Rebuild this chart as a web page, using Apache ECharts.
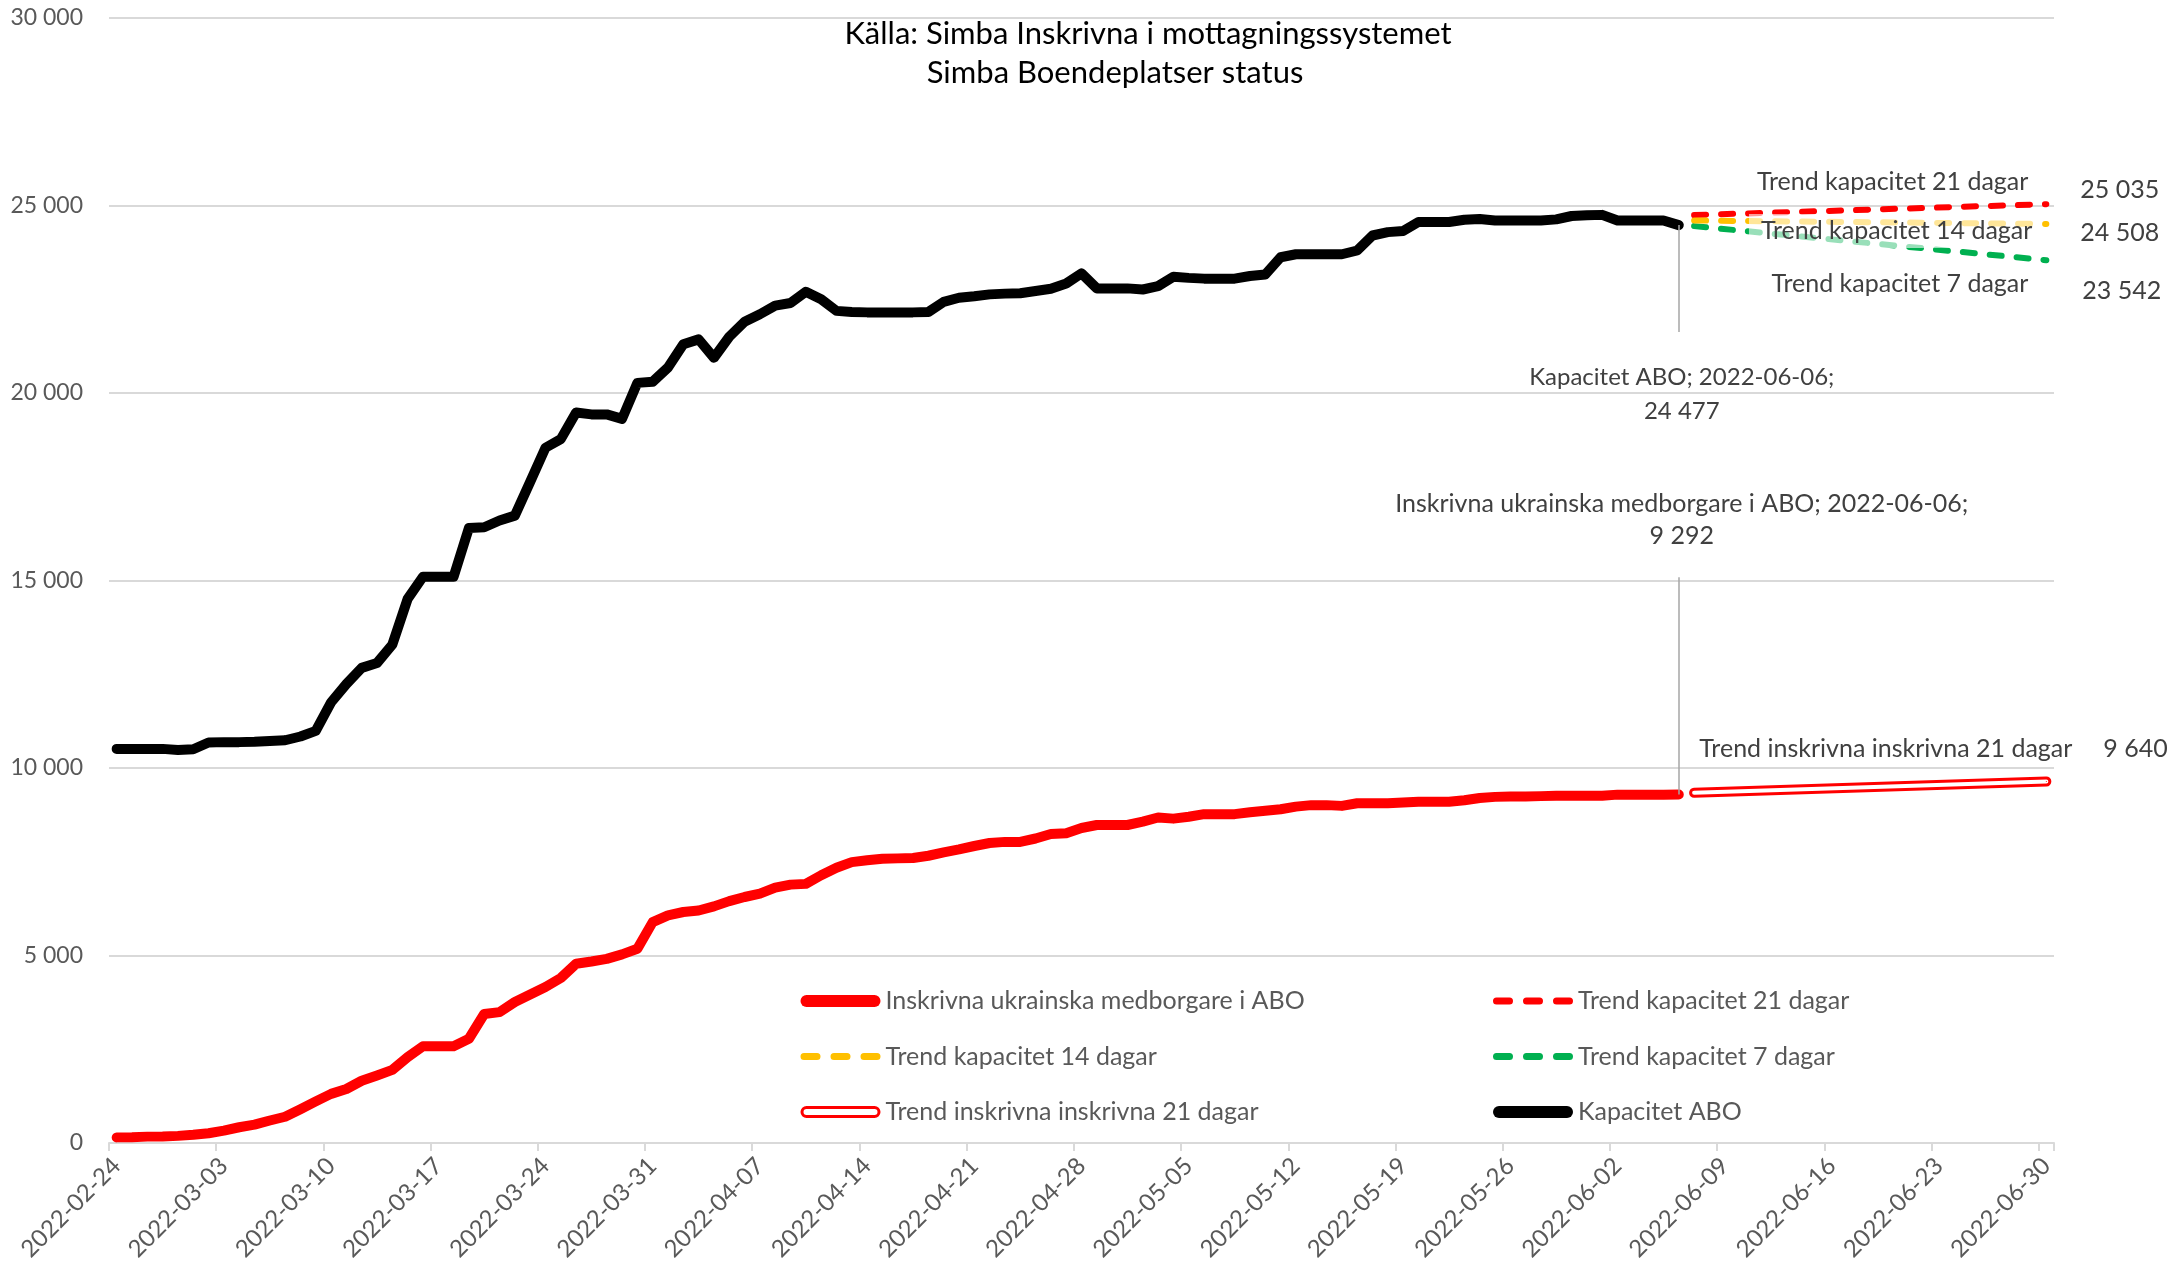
<!DOCTYPE html>
<html>
<head>
<meta charset="utf-8">
<title>Kapacitet ABO</title>
<script src="https://cdn.jsdelivr.net/npm/echarts@6/dist/echarts.min.js"></script>
<style>
  html, body { margin: 0; padding: 0; background: #fff; }
  #chart { width: 2171px; height: 1280px; }
</style>
</head>
<body>
<div id="chart"></div>
<script>
// kategorier: en per dag, 2022-02-24 .. 2022-06-30
var startDate = '2022-02-24';
var endDate = '2022-06-30';
var categories = [];
(function () {
    var d = new Date(startDate + 'T00:00:00Z');
    var end = new Date(endDate + 'T00:00:00Z');
    while (d <= end) {
        categories.push(d.toISOString().slice(0, 10));
        d.setUTCDate(d.getUTCDate() + 1);
    }
})();

// Kapacitet ABO, 2022-02-24 .. 2022-06-06
var kapacitet = [
    10510, 10510, 10510, 10510, 10480, 10500, 10680, 10690, 10690, 10700,
    10720, 10740, 10840, 10990, 11750, 12240, 12670, 12800, 13290, 14510,
    15100, 15100, 15100, 16400, 16420, 16600, 16730, 17630, 18540, 18770,
    19480, 19430, 19430, 19310, 20270, 20300, 20680, 21300, 21430, 20940,
    21500, 21900, 22100, 22330, 22400, 22700, 22500, 22190, 22160, 22150,
    22150, 22150, 22150, 22160, 22430, 22540, 22580, 22630, 22650, 22660,
    22720, 22780, 22920, 23190, 22790, 22790, 22790, 22760, 22850, 23100,
    23070, 23050, 23050, 23050, 23120, 23160, 23620, 23700, 23700, 23700,
    23700, 23800, 24200, 24290, 24320, 24560, 24560, 24560, 24620, 24640,
    24600, 24600, 24600, 24600, 24630, 24720, 24740, 24750, 24600, 24600,
    24600, 24600, 24477
];

// Inskrivna ukrainska medborgare i ABO, 2022-02-24 .. 2022-06-06
var inskrivna = [
    150, 155, 170, 175, 190, 220, 260, 330, 420, 490,
    600, 700, 900, 1110, 1310, 1440, 1660, 1800, 1950, 2290,
    2580, 2580, 2580, 2780, 3440, 3490, 3760, 3960, 4160, 4400,
    4780, 4840, 4910, 5030, 5180, 5890, 6070, 6160, 6200, 6310,
    6450, 6560, 6650, 6810, 6890, 6910, 7140, 7340, 7490, 7540,
    7580, 7590, 7600, 7660, 7750, 7830, 7920, 8000, 8030, 8030,
    8120, 8240, 8260, 8400, 8480, 8480, 8480, 8570, 8680, 8650,
    8700, 8770, 8770, 8770, 8820, 8860, 8900, 8970, 9010, 9010,
    8990, 9060, 9060, 9060, 9080, 9100, 9100, 9100, 9140, 9200,
    9230, 9240, 9240, 9250, 9260, 9260, 9260, 9260, 9290, 9290,
    9290, 9290, 9292
];

// trendlinjer: start- och slutvärde
var trendDates = ['2022-06-07', '2022-06-30'];
var trendKap21 = [24745, 25035];
var trendKap14 = [24600, 24508];
var trendKap7 = [24450, 23542];
var trendInskr21 = [9340, 9640];

var yMin = 0;
var yMax = 30000;
var yStep = 5000;

var RED = '#FF0000';
var YELLOW = '#FFC000';
var GREEN = '#00B050';
var TXT = '#404040';
var AXIS_TXT = '#595959';
var GRID = '#D9D9D9';
var FONT = 'Lato';

function fmt(v) {
    return String(v).replace(/\B(?=(\d{3})+(?!\d))/g, ' ');
}

// legendsymboler (80 x 12)
var solidIcon = 'path://M6,0L74,0A6,6,0,0,1,74,12L6,12A6,6,0,0,1,6,0Z';
var dashIcon = 'path://M0,0M80,12' +
    'M3.5,2.5L16.5,2.5A3.5,3.5,0,0,1,16.5,9.5L3.5,9.5A3.5,3.5,0,0,1,3.5,2.5Z' +
    'M33.5,2.5L46.5,2.5A3.5,3.5,0,0,1,46.5,9.5L33.5,9.5A3.5,3.5,0,0,1,33.5,2.5Z' +
    'M63.5,2.5L76.5,2.5A3.5,3.5,0,0,1,76.5,9.5L63.5,9.5A3.5,3.5,0,0,1,63.5,2.5Z';
var outlineIcon = 'path://M0,0M80,12M6,1.5L74,1.5A4.5,4.5,0,0,1,74,10.5L6,10.5A4.5,4.5,0,0,1,6,1.5Z';

// namn-etikett vid trendlinjens slut (högerställd)
function nameLabel(name, dx, dy, bg) {
    var lab = {
        show: true,
        position: 'inside',
        align: 'right',
        verticalAlign: 'middle',
        offset: [dx, dy],
        formatter: name,
        color: TXT, fontSize: 25, fontFamily: FONT
    };
    if (bg) {
        lab.backgroundColor = bg;
        lab.padding = [7, 8, 2, 12];
        lab.offset = [dx + 8, dy - 2];
    }
    return lab;
}

// värde-etikett vid trendlinjens slut
function valueMark(val, dx, dy) {
    return {
        silent: true, animation: false,
        symbol: 'circle', symbolSize: 1,
        itemStyle: { color: 'rgba(0,0,0,0)' },
        label: {
            show: true, position: 'inside', align: 'left', verticalAlign: 'middle',
            offset: [dx, dy], color: TXT, fontSize: 25, fontFamily: FONT,
            formatter: fmt(val)
        },
        data: [{ coord: [trendDates[1], val], value: val }]
    };
}

function trendData(vals, label) {
    return [
        [trendDates[0], vals[0]],
        { value: [trendDates[1], vals[1]], symbol: 'circle', symbolSize: 1, label: label }
    ];
}

function lastLabelData(vals, label) {
    var last = vals.length - 1;
    return vals.map(function (v, i) {
        if (i !== last) return v;
        return { value: v, symbol: 'circle', symbolSize: 1, label: label };
    });
}

var lastDate = categories[kapacitet.length - 1];

var chart = echarts.init(document.getElementById('chart'));

var legendText = { color: AXIS_TXT, fontSize: 25, fontFamily: FONT, lineHeight: 30 };

var option = {
    animation: false,
    backgroundColor: '#fff',
    textStyle: { fontFamily: FONT },
    title: [
        {
            text: 'Källa: Simba Inskrivna i mottagningssystemet',
            left: 1143, top: 13, textAlign: 'center',
            textStyle: { color: '#000', fontSize: 31, fontWeight: 'normal', fontFamily: FONT }
        },
        {
            text: 'Simba Boendeplatser status',
            left: 1110, top: 52, textAlign: 'center',
            textStyle: { color: '#000', fontSize: 31, fontWeight: 'normal', fontFamily: FONT }
        }
    ],
    grid: { left: 109, right: 117, top: 18, bottom: 137, containLabel: false },
    legend: [
        {
            orient: 'vertical', left: 799, top: 986, padding: 0,
            itemWidth: 80, itemHeight: 12, itemGap: 25.5,
            symbolKeepAspect: false, selectedMode: false,
            textStyle: legendText,
            data: [
                { name: 'Inskrivna ukrainska medborgare i ABO', icon: solidIcon },
                { name: 'Trend kapacitet 14 dagar', icon: dashIcon },
                {
                    name: 'Trend inskrivna inskrivna 21 dagar', icon: outlineIcon,
                    itemStyle: { color: '#fff', borderColor: RED, borderWidth: 3 }
                }
            ]
        },
        {
            orient: 'vertical', left: 1493, top: 986, padding: 0,
            itemWidth: 80, itemHeight: 12, itemGap: 25.5,
            symbolKeepAspect: false, selectedMode: false,
            textStyle: legendText,
            data: [
                { name: 'Trend kapacitet 21 dagar', icon: dashIcon },
                { name: 'Trend kapacitet 7 dagar', icon: dashIcon },
                { name: 'Kapacitet ABO', icon: solidIcon }
            ]
        }
    ],
    xAxis: {
        type: 'category',
        data: categories,
        boundaryGap: true,
        axisLine: { lineStyle: { color: GRID, width: 2 } },
        axisTick: { show: true, interval: 6, length: 8, lineStyle: { color: GRID, width: 2 } },
        axisLabel: {
            interval: 6, rotate: 45, margin: 19,
            color: AXIS_TXT, fontSize: 24, fontFamily: FONT
        },
        splitLine: { show: false }
    },
    yAxis: {
        type: 'value',
        min: yMin, max: yMax, interval: yStep,
        axisLine: { show: false },
        axisTick: { show: false },
        axisLabel: {
            margin: 26, color: AXIS_TXT, fontSize: 23, fontFamily: FONT,
            formatter: function (v) { return fmt(v); }
        },
        splitLine: { lineStyle: { color: GRID, width: 2 } }
    },
    series: [
        {
            name: 'Inskrivna ukrainska medborgare i ABO',
            type: 'line',
            color: RED,
            symbol: 'none',
            showAllSymbol: true,
            lineStyle: { color: RED, width: 10, cap: 'round', join: 'round' },
            itemStyle: { color: RED },
            data: lastLabelData(inskrivna, {
                show: true, position: 'inside', align: 'center', verticalAlign: 'middle',
                offset: [3, -275], color: TXT, fontSize: 25, fontFamily: FONT, lineHeight: 32,
                formatter: 'Inskrivna ukrainska medborgare i ABO; ' + lastDate + ';\n' + fmt(inskrivna[inskrivna.length - 1])
            }),
            markLine: {
                silent: true, symbol: ['none', 'none'], animation: false,
                label: { show: false },
                lineStyle: { color: '#A6A6A6', width: 1.5, type: 'solid' },
                data: [[{ coord: [lastDate, 15090] }, { coord: [lastDate, inskrivna[inskrivna.length - 1]] }]]
            }
        },
        {
            name: 'Kapacitet ABO',
            type: 'line',
            color: '#000',
            symbol: 'none',
            showAllSymbol: true,
            z: 3,
            lineStyle: { color: '#000', width: 10, cap: 'round', join: 'round' },
            itemStyle: { color: '#000' },
            data: lastLabelData(kapacitet, {
                show: true, position: 'inside', align: 'center', verticalAlign: 'middle',
                offset: [3, 169], color: TXT, fontSize: 24, fontFamily: FONT, lineHeight: 34,
                formatter: 'Kapacitet ABO; ' + lastDate + ';\n' + fmt(kapacitet[kapacitet.length - 1])
            }),
            markLine: {
                silent: true, symbol: ['none', 'none'], animation: false,
                label: { show: false },
                lineStyle: { color: '#A6A6A6', width: 1.5, type: 'solid' },
                data: [[{ coord: [lastDate, kapacitet[kapacitet.length - 1]] }, { coord: [lastDate, 21630] }]]
            }
        },
        {
            name: 'Trend kapacitet 21 dagar',
            type: 'line',
            color: RED,
            symbol: 'none',
            lineStyle: { color: RED, width: 6, type: [12, 15], cap: 'round' },
            itemStyle: { color: RED },
            data: trendData(trendKap21, nameLabel('Trend kapacitet 21 dagar', -18, -22)),
            markPoint: valueMark(trendKap21[1], 34, -14)
        },
        {
            name: 'Trend kapacitet 7 dagar',
            type: 'line',
            color: GREEN,
            symbol: 'none',
            lineStyle: { color: GREEN, width: 6, type: [12, 15], cap: 'round' },
            itemStyle: { color: GREEN },
            data: trendData(trendKap7, nameLabel('Trend kapacitet 7 dagar', -18, 24)),
            markPoint: valueMark(trendKap7[1], 36, 31)
        },
        {
            name: 'Trend kapacitet 14 dagar',
            type: 'line',
            color: YELLOW,
            symbol: 'none',
            z: 4,
            lineStyle: { color: YELLOW, width: 6, type: [12, 15], cap: 'round' },
            itemStyle: { color: YELLOW },
            data: trendData(trendKap14, nameLabel('Trend kapacitet 14 dagar', -14, 9, 'rgba(255,255,255,0.6)')),
            markPoint: valueMark(trendKap14[1], 34, 9)
        },
        {
            name: 'Trend inskrivna inskrivna 21 dagar',
            type: 'line',
            color: RED,
            symbol: 'none',
            lineStyle: { color: RED, width: 10, cap: 'round' },
            itemStyle: { color: RED },
            data: trendData(trendInskr21, nameLabel('Trend inskrivna inskrivna 21 dagar', 26, -33)),
            markPoint: valueMark(trendInskr21[1], 57, -33)
        },
        {
            name: 'Trend inskrivna (inre)',
            type: 'line',
            color: '#fff',
            symbol: 'none',
            silent: true,
            lineStyle: { color: '#fff', width: 4, cap: 'round' },
            data: [[trendDates[0], trendInskr21[0]], [trendDates[1], trendInskr21[1]]]
        }
    ]
};

chart.setOption(option);
</script>
</body>
</html>
